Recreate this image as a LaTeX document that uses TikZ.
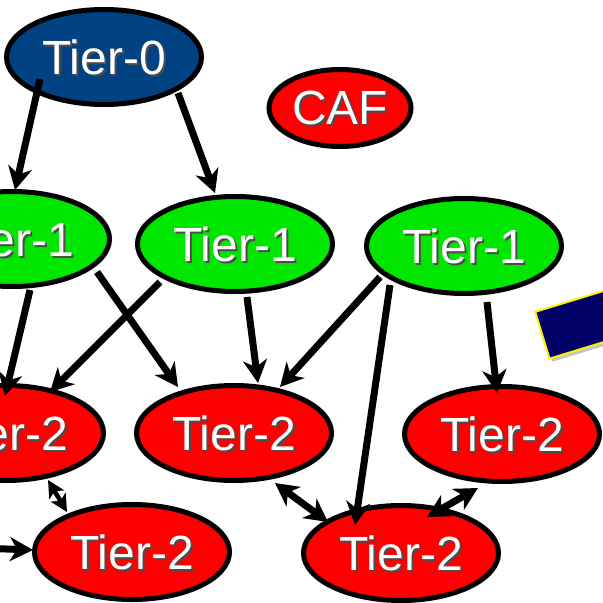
\documentclass[tikz,border=0pt]{standalone}
\usepackage{fontspec}
\setmainfont{Liberation Sans}
\usetikzlibrary{shapes.geometric,arrows.meta,shadows}
\definecolor{tierblue}{RGB}{1,66,130}
\definecolor{tiergreen}{RGB}{0,230,0}
\definecolor{tierred}{RGB}{255,0,0}
\definecolor{panelnavy}{RGB}{0,0,102}
% white label with a dark drop shadow behind it
\newcommand\shtext[1]{\rlap{\smash{\hspace{2pt}\raisebox{-2pt}{\color{black!70}#1}}}#1}
\begin{document}
\begin{tikzpicture}[x=1pt,y=-1pt,
  tier/.style={ellipse, draw=black, line width=5pt, minimum width=195pt,
    minimum height=95pt, inner sep=0pt, text=white,
    font=\fontsize{48}{52}\selectfont},
  link/.style={line width=7pt, -{Stealth[length=23pt,width=24pt,inset=7pt]}},
  twoway/.style={line width=7pt,
    {Stealth[length=23pt,width=24pt,inset=7pt]}-{Stealth[length=23pt,width=24pt,inset=7pt]}},
  shortway/.style={line width=4.5pt,
    {Stealth[length=17pt,width=17pt,inset=4pt]}-{Stealth[length=17pt,width=17pt,inset=4pt]}}]
\clip (0,0) rectangle (603,603);
\fill[white] (0,0) rectangle (603,603);

% tilted panel at the right border
\node[draw=yellow, line width=2pt, fill=panelnavy, rotate=17,
  minimum width=200pt, minimum height=49pt, inner sep=0pt,
  drop shadow={shadow xshift=3pt, shadow yshift=-3pt, opacity=0.45}]
  (panel) at (638,306) {};

% nodes
\node[tier, fill=tierblue] (t0) at (104,57) {\shtext{Tier-0}};
\node[tier, fill=tierred, minimum width=142pt, minimum height=77pt] (caf) at (340,108) {\shtext{CAF}};
\node[tier, fill=tiergreen] (t1a) at (12,239) {\shtext{Tier-1}};
\node[tier, fill=tiergreen] (t1b) at (235,244) {\shtext{Tier-1}};
\node[tier, fill=tiergreen] (t1c) at (464,246) {\shtext{Tier-1}};
\node[tier, fill=tierred] (t2a) at (6,433) {\shtext{Tier-2}};
\node[tier, fill=tierred] (t2b) at (234,433) {\shtext{Tier-2}};
\node[tier, fill=tierred] (t2c) at (502,434) {\shtext{Tier-2}};
\node[tier, fill=tierred] (t2d) at (132,552) {\shtext{Tier-2}};
\node[tier, fill=tierred] (t2e) at (401,553) {\shtext{Tier-2}};
\coordinate (src) at (-20,548);

% connectors
\draw[link] ([shift={(-64,22)}]t0.center) -- ([shift={(3,-49)}]t1a.center);
\draw[link] ([shift={(74,36)}]t0.center) -- ([shift={(-20,-51)}]t1b.center);
\draw[link] ([shift={(18,51)}]t1a.center) -- ([shift={(-1,-37)}]t2a.center);
\draw[link] ([shift={(85,33)}]t1a.center) -- ([shift={(-56,-46)}]t2b.center);
\draw[link] ([shift={(-75,38)}]t1b.center) -- ([shift={(44,-41)}]t2a.center);
\draw[link] ([shift={(12,53)}]t1b.center) -- ([shift={(24,-50)}]t2b.center);
\draw[link] ([shift={(-84,31)}]t1c.center) -- ([shift={(46,-46)}]t2b.center);
\draw[link] ([shift={(-74,39)}]t1c.center) -- ([shift={(-46,-28)}]t2e.center);
\draw[link] ([shift={(23,56)}]t1c.center) -- ([shift={(-5,-41)}]t2c.center);
\draw[twoway] ([shift={(41,50)}]t2b.center) -- ([shift={(-73,-31)}]t2e.center);
\draw[twoway] ([shift={(-24,54)}]t2c.center) -- ([shift={(26,-36)}]t2e.center);
\draw[shortway] ([shift={(42,47)}]t2a.center) -- ([shift={(-65,-40)}]t2d.center);
\draw[link] (src) -- ([shift={(-99,-2)}]t2d.center);
\end{tikzpicture}
\end{document}
